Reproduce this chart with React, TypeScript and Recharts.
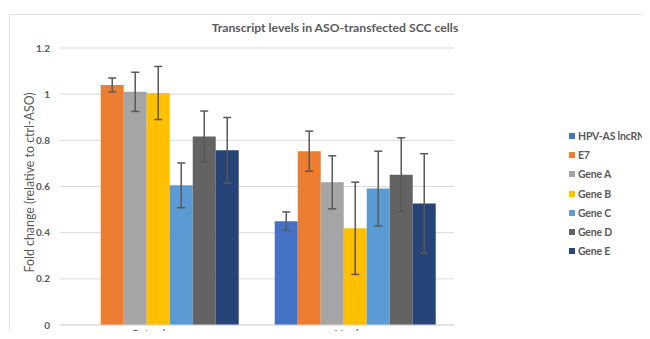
import { BarChart, Bar, XAxis, YAxis, CartesianGrid, Legend, ErrorBar } from "recharts";

const categories = ["Cytoplasm", "Nucleus"];
const seriesNames = ["HPV-AS lncRNA", "E7", "Gene A", "Gene B", "Gene C", "Gene D", "Gene E"];
const seriesColors = ["#4472C4", "#ED7D31", "#A5A5A5", "#FFC000", "#5B9BD5", "#636363", "#264478"];
const cytoplasmValues = [null, 1.04, 1.01, 1.005, 0.605, 0.817, 0.757];
const cytoplasmErrors = [0, 0.03, 0.085, 0.115, 0.097, 0.11, 0.142];
const nucleusValues = [0.45, 0.753, 0.618, 0.419, 0.591, 0.651, 0.526];
const nucleusErrors = [0.04, 0.087, 0.115, 0.2, 0.162, 0.16, 0.216];
const yTicks = [0, 0.2, 0.4, 0.6, 0.8, 1, 1.2];

const data = categories.map((cat, ci) => {
  const vals = ci === 0 ? cytoplasmValues : nucleusValues;
  const errs = ci === 0 ? cytoplasmErrors : nucleusErrors;
  const row: any = { name: cat };
  seriesNames.forEach((s, i) => {
    row[`v${i}`] = vals[i];
    row[`e${i}`] = errs[i];
  });
  return row;
});

const font = "Lato, 'Open Sans', sans-serif";
const textColor = "#595959";

function LegendBox() {
  return (
    <div style={{ fontFamily: font, fontSize: 10.5, fontWeight: 700, color: textColor, letterSpacing: -0.2 }}>
      {seriesNames.map((s, i) => (
        <div key={s} style={{ display: "flex", alignItems: "center", height: 19.3, whiteSpace: "nowrap" }}>
          <span style={{ width: 6, height: 6, background: seriesColors[i], marginRight: 3 }} />
          {s}
        </div>
      ))}
    </div>
  );
}

export default function App() {
  return (
    <div style={{ position: "relative", width: 650, height: 339, margin: -8, overflow: "hidden", background: "#fff" }}>
      <div
        style={{
          position: "absolute",
          left: 9,
          top: 14,
          width: 700,
          height: 400,
          border: "1px solid #e3e3e3",
        }}
      />
      <div
        style={{
          position: "absolute",
          top: 20,
          left: 0,
          width: 670,
          textAlign: "center",
          fontFamily: font,
          fontSize: 12.2,
          fontWeight: 700,
          color: textColor,
        }}
      >
        Transcript levels in ASO-transfected SCC cells
      </div>
      <div style={{ position: "absolute", left: 0, top: 0 }}>
        <BarChart
          width={650}
          height={339}
          data={data}
          margin={{ top: 48, right: 96, left: 0, bottom: 0 }}
          barCategoryGap="9%"
          barGap={0}
        >
          <CartesianGrid vertical={false} stroke="#d9d9d9" />
          <XAxis
            dataKey="name"
            axisLine={{ stroke: "#d9d9d9" }}
            tickLine={false}
            height={14}
            tick={{ fill: textColor, fontSize: 12, fontFamily: font, dy: -4 }}
          />
          <YAxis
            width={60}
            domain={[0, 1.2]}
            ticks={yTicks}
            axisLine={false}
            tickLine={false}
            tickMargin={4}
            tick={{ fill: textColor, fontSize: 10, fontFamily: font, fontWeight: 700 }}
            label={{
              value: "Fold change (relative to ctrl-ASO)",
              angle: -90,
              position: "insideLeft",
              dx: 25,
              dy: 86,
              style: { fill: textColor, fontSize: 12.4, fontFamily: font },
            }}
          />
          <Legend
            layout="vertical"
            verticalAlign="top"
            align="right"
            content={<LegendBox />}
            wrapperStyle={{ position: "absolute", left: 569, top: 126, width: 100 }}
          />
          {seriesNames.map((s, i) => (
            <Bar key={s} dataKey={`v${i}`} name={s} fill={seriesColors[i]} isAnimationActive={false}>
              <ErrorBar dataKey={`e${i}`} stroke="#595959" strokeWidth={1.5} width={4} />
            </Bar>
          ))}
        </BarChart>
      </div>
    </div>
  );
}
